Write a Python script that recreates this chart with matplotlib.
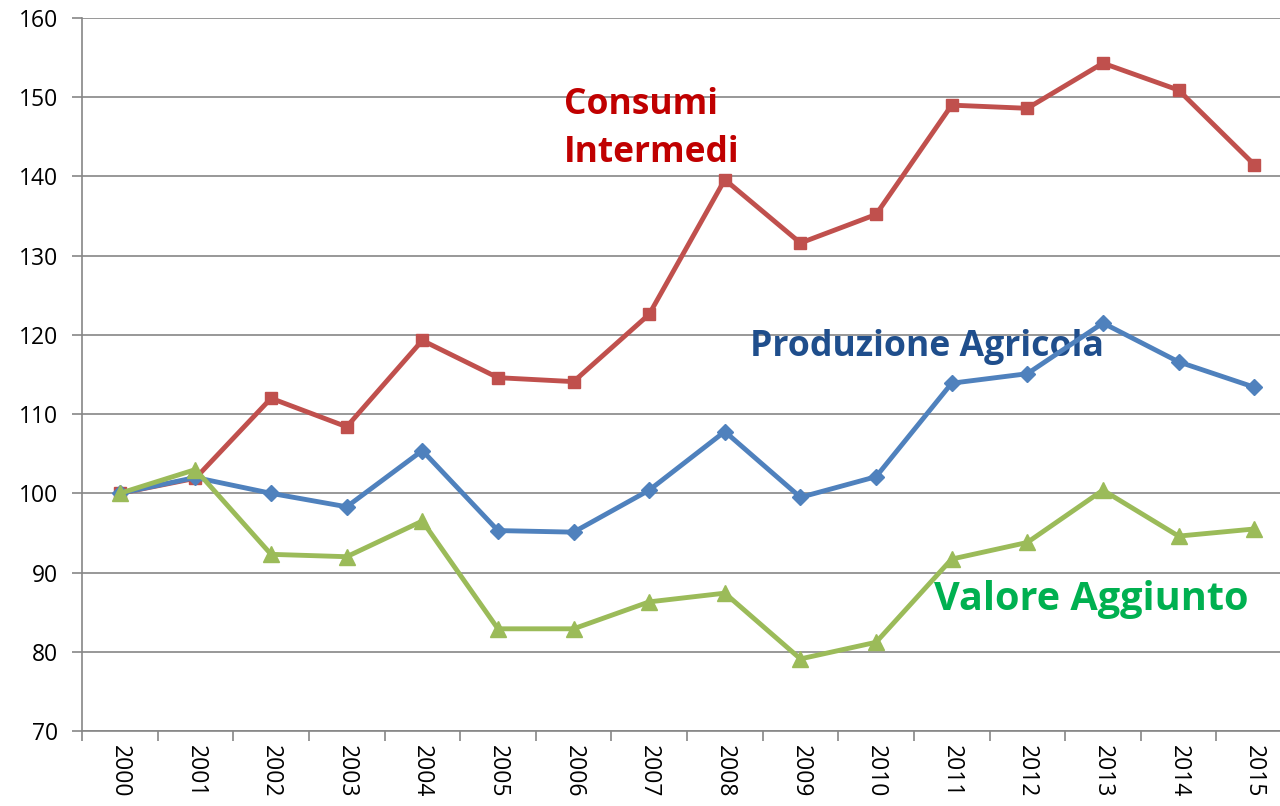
import matplotlib
matplotlib.use("Agg")
import matplotlib.pyplot as plt
from matplotlib.ticker import FixedLocator

years = [str(y) for y in range(2000, 2016)]
consumi = [100, 101.9, 112.0, 108.4, 119.3, 114.6, 114.1, 122.6, 139.6, 131.6, 135.2, 149.0, 148.6, 154.3, 150.9, 141.5]
produzione = [100, 102.0, 100.0, 98.3, 105.4, 95.3, 95.1, 100.4, 107.8, 99.5, 102.1, 113.9, 115.1, 121.5, 116.6, 113.4]
valore = [100, 103.0, 92.3, 92.0, 96.5, 82.9, 82.9, 86.3, 87.4, 79.1, 81.2, 91.7, 93.8, 100.4, 94.6, 95.5]
yticks = list(range(70, 161, 10))

W, H = 1280, 806
fig = plt.figure(figsize=(12.8, 8.06), dpi=100)
ax = fig.add_axes([82 / W, (H - 731) / H, 1210 / W, 713 / H])

x = list(range(len(years)))
ax.plot(x, consumi, color="#C0504D", lw=3.5, marker="s", ms=9, zorder=3)
ax.plot(x, produzione, color="#4F81BD", lw=3.5, marker="D", ms=8, zorder=4)
ax.plot(x, valore, color="#9BBB59", lw=3.5, marker="^", ms=11, zorder=5)

ax.set_xlim(-0.5, len(years) - 0.5)
ax.set_ylim(70, 160)
ax.set_yticks(yticks)
ax.set_xticks(x)
ax.set_xticklabels(years, rotation=270, fontsize=16.5, family="Open Sans")
ax.xaxis.set_minor_locator(FixedLocator([i - 0.5 for i in range(len(years) + 1)]))
ax.tick_params(axis="x", which="major", length=0, pad=10)
ax.tick_params(axis="x", which="minor", length=7, color="#868686", width=1.2)
ax.tick_params(axis="y", length=7, color="#868686", width=1.2, labelsize=16.5, pad=10)
for lab in ax.get_yticklabels():
    lab.set_family("Open Sans")

ax.grid(axis="y", color="#868686", lw=1.2)
ax.set_axisbelow(True)
for s in ["top", "right"]:
    ax.spines[s].set_visible(False)
for s in ["left", "bottom"]:
    ax.spines[s].set_color("#868686")
    ax.spines[s].set_linewidth(1.2)

ax.text(5.87, 146.0, "Consumi\nIntermedi", color="#C00000", fontsize=25.5, fontweight="bold",
        family="Open Sans", ha="left", va="center", linespacing=1.45)
ax.text(8.33, 118.5, "Produzione Agricola", color="#1F4E8C", fontsize=25.7, fontweight="bold",
        family="Open Sans", ha="left", va="center")
ax.text(10.76, 86.6, "Valore Aggiunto", color="#00B050", fontsize=28.5, fontweight="bold",
        family="Open Sans", ha="left", va="center")

fig.savefig("out.png", dpi=100)
